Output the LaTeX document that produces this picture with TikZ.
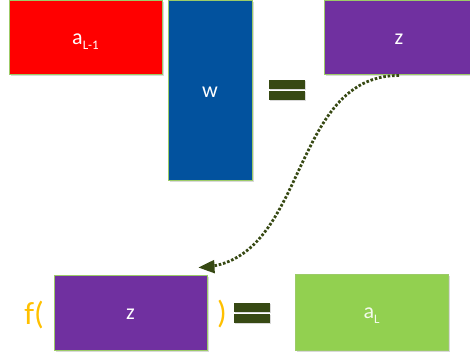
\documentclass[tikz,border=0pt]{standalone}
\usepackage{fontspec}
\setmainfont{Carlito}
\usepackage{tikz}
\usetikzlibrary{arrows,shadows,calc}
\definecolor{boxred}{HTML}{FF0000}
\definecolor{boxblue}{HTML}{02529E}
\definecolor{boxpurple}{HTML}{7030A0}
\definecolor{boxgreen}{HTML}{92D050}
\definecolor{boxedge}{HTML}{9CCB68}
\definecolor{eqolive}{HTML}{374913}
\definecolor{forange}{HTML}{FFC000}
\newcommand*{\lsub}[1]{\raisebox{-5pt}{\fontsize{13}{13}\selectfont #1}}
\newcommand*{\Eqsign}[3]{\coordinate (#3) at (#1,#2);
  \fill[eqbar] (#1-18,#2-10) rectangle ++(36,9);
  \fill[eqbar] (#1-18,#2+1) rectangle ++(36,9);
}

\begin{document}
\begin{tikzpicture}[x=1pt,y=-1pt]
\tikzstyle{mat}=[draw=boxedge,line width=1pt,text=white,inner sep=0pt,
  font=\fontsize{22}{24}\selectfont,text height=1.55em,text depth=0.25em,
  drop shadow={shadow xshift=1.5pt,shadow yshift=-1.5pt,opacity=0.3}]
\tikzstyle{eqbar}=[eqolive,drop shadow={shadow xshift=1pt,shadow yshift=-1pt,opacity=0.3}]
\tikzstyle{paren}=[text=forange,inner sep=0pt,font=\fontsize{32}{34}\selectfont]
\useasboundingbox (0,0) rectangle (470,355);
% top row: a_{L-1} w = z
\node[mat,fill=boxred,minimum width=153pt,minimum height=74pt] (aprev) at (85.5,38) {a\lsub{L-1}};
\node[mat,fill=boxblue,minimum width=84pt,minimum height=180pt] (w) at (210,91) {w};
\Eqsign{287}{90.5}{eqtop}
\node[mat,fill=boxpurple,minimum width=150pt,minimum height=74pt] (ztop) at (399,38) {z};
% bottom row: f( z ) = a_L
\node[paren] (fopen) at (34,315) {f(};
\node[mat,fill=boxpurple,minimum width=153pt,minimum height=75pt] (zin) at (130.5,312.5) {z};
\node[paren] (fclose) at (222,314) {)};
\Eqsign{252}{312.5}{eqbot}
\node[mat,fill=boxgreen,text=white!90!boxgreen,minimum width=153pt,minimum height=76pt] (acur) at (371.5,312) {a\lsub{L}};
\tikzset{>={triangle 45}}
\coordinate (tip) at ($(zin.north east)+(-9,-7)$);
\draw[->,eqolive,line width=2.8pt,dash pattern=on 2.6pt off 1.8pt]
  (ztop.south) .. controls +(-110,0) and +(110,-6) .. (tip);
\end{tikzpicture}
\end{document}
